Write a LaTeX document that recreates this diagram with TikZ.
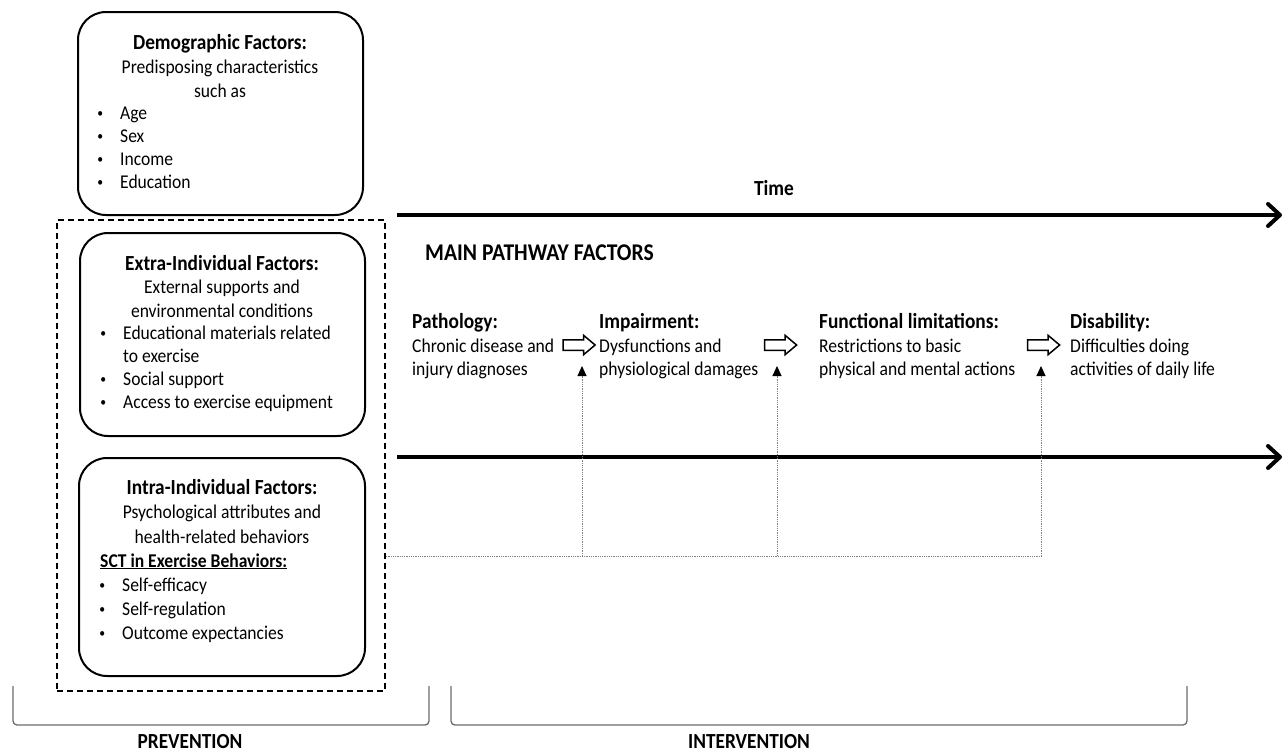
\documentclass[tikz,border=0pt]{standalone}
\usepackage{fontspec}
\setmainfont{Carlito}[FakeStretch=0.9]
\usetikzlibrary{arrows.meta,shapes.arrows}
\newcommand\bulx{\llap{\raisebox{1.8pt}{\fontsize{13}{13}\selectfont\textbullet}\hspace{17pt}}}
\begin{document}
\begin{tikzpicture}[x=1pt,y=-1pt,
  rbox/.style={draw,line width=2pt,rounded corners=28pt,inner sep=0pt},
  dbox/.style={draw,line width=1.5pt,dash pattern=on 6pt off 4pt,inner sep=0pt},
  ttl/.style={font=\fontsize{21.5}{26}\selectfont\bfseries,inner sep=0pt,anchor=base},
  ttlw/.style={ttl,anchor=base west},
  big/.style={font=\fontsize{24}{28}\selectfont\bfseries,inner sep=0pt,anchor=base west},
  txtc/.style={font=\fontsize{19.5}{24}\selectfont,inner sep=0pt,anchor=base},
  txtw/.style={txtc,anchor=base west},
  item/.style={txtw},
  barrow/.style={single arrow,draw,line width=1.5pt,inner sep=4.5pt,minimum height=32pt,single arrow head extend=4.5pt,single arrow tip angle=80},
  tarrow/.style={line width=4pt,-{Straight Barb[length=12pt,width=22pt,round]}},
  dotl/.style={draw=gray,line width=1pt,dash pattern=on 1pt off 0.8pt},
  dotarr/.style={dotl,-{Triangle[length=10pt,width=9pt,color=black]}},
  brk/.style={draw=gray!85!black,line width=1.3pt,rounded corners=4pt}
]
\useasboundingbox (0,0) rectangle (1285,753);

% boxes
\node[rbox,minimum width=285pt,minimum height=203pt] (demo) at (220.5,113.5) {};
\node[dbox,minimum width=328pt,minimum height=471pt] (ind) at (221,455.5) {};
\node[rbox,minimum width=285pt,minimum height=203pt] (extra) at (222.5,334.5) {};
\node[rbox,minimum width=286pt,minimum height=218pt] (intra) at (222,567) {};

% demographic text
\node[ttl] (d0) at (220,49) {Demographic Factors:};
\node[txtc] (d1) at (220,73) {Predisposing characteristics};
\node[txtc] (d2) at (220,97) {such as};
\node[item] (d3) at (120,119) {\bulx Age};
\node[item] (d4) at (120,142) {\bulx Sex};
\node[item] (d5) at (120,165) {\bulx Income};
\node[item] (d6) at (120,188) {\bulx Education};

% extra-individual text
\node[ttl] (e0) at (222,270) {Extra-Individual Factors:};
\node[txtc] (e1) at (222,293) {External supports and};
\node[txtc] (e2) at (222,317) {environmental conditions};
\node[item] (e3) at (123,339) {\bulx Educational materials related};
\node[item] (e4) at (123,362) {to exercise};
\node[item] (e5) at (123,385) {\bulx Social support};
\node[item] (e6) at (123,408) {\bulx Access to exercise equipment};

% intra-individual text
\node[ttl] (i0) at (222,494) {Intra-Individual Factors:};
\node[txtc] (i1) at (222,518) {Psychological attributes and};
\node[txtc] (i2) at (222,543) {health-related behaviors};
\node[txtw] (i3) at (100,567) {\bfseries\underline{SCT in Exercise Behaviors:}};
\node[item] (i4) at (122,591) {\bulx Self-efficacy};
\node[item] (i5) at (122,615) {\bulx Self-regulation};
\node[item] (i6) at (122,639) {\bulx Outcome expectancies};

% time arrows
\coordinate (ta) at (397,215);
\coordinate (tb) at (1282,215);
\coordinate (ba) at (397,457);
\coordinate (bb) at (1282,457);
\draw[tarrow] (ta) -- (tb);
\draw[tarrow] (ba) -- (bb);
\node[ttl] (time) at (774,195) {Time};
\node[big] (mpf) at (425,260) {MAIN PATHWAY FACTORS};

% pathway
\node[ttlw] (p0) at (412,328) {Pathology:};
\node[txtw] (p1) at (412,352) {Chronic disease and};
\node[txtw] (p2) at (412,375) {injury diagnoses};
\node[ttlw] (m0) at (599,328) {Impairment:};
\node[txtw] (m1) at (599,352) {Dysfunctions and};
\node[txtw] (m2) at (599,375) {physiological damages};
\node[ttlw] (f0) at (819,328) {Functional limitations:};
\node[txtw] (f1) at (819,352) {Restrictions to basic};
\node[txtw] (f2) at (819,375) {physical and mental actions};
\node[ttlw] (s0) at (1070,328) {Disability:};
\node[txtw] (s1) at (1070,352) {Difficulties doing};
\node[txtw] (s2) at (1070,375) {activities of daily life};

\node[barrow] (a1) at (576,345) {};
\node[barrow] (a2) at (777.5,345) {};
\node[barrow] (a3) at (1040.5,345) {};

% dotted influence lines
\coordinate (j1) at (582,556);
\coordinate (j2) at (777,556);
\coordinate (j3) at (1041,556);
\coordinate (u1) at (582,366);
\coordinate (u2) at (777,366);
\coordinate (u3) at (1041,366);
\draw[dotl] (ind.east |- j1) -- (j3);
\draw[dotarr] (j1) -- (u1);
\draw[dotarr] (j2) -- (u2);
\draw[dotarr] (j3) -- (u3);

% brackets
\draw[brk] (13,686) -- (13,725) -- (429,725) -- (429,686);
\draw[brk] (451,686) -- (451,725) -- (1187,725) -- (1187,686);
\node[ttl] (prev) at (190,748) {PREVENTION};
\node[ttl] (interv) at (749,748) {INTERVENTION};
\end{tikzpicture}
\end{document}
